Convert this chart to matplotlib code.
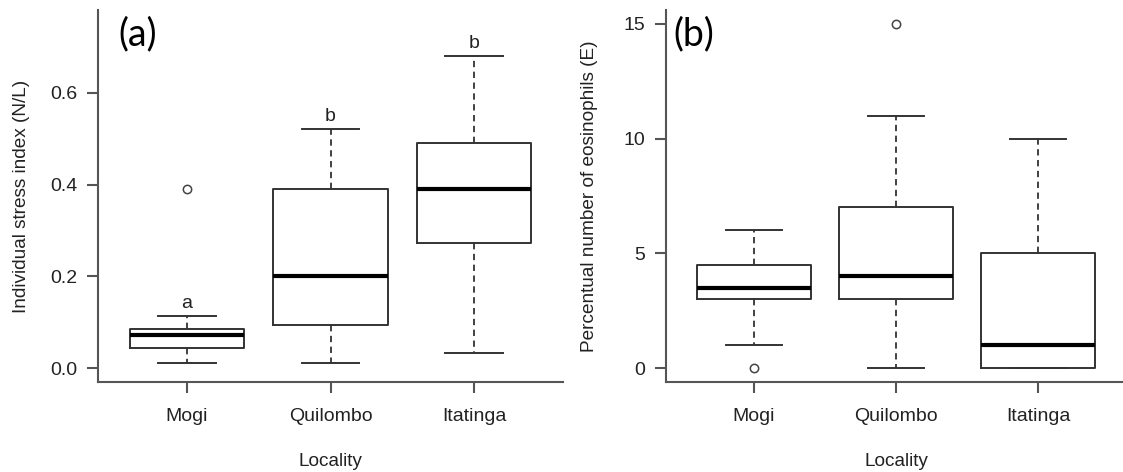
import matplotlib
matplotlib.use("Agg")
import matplotlib.pyplot as plt

plt.rcParams['font.family'] = ['Liberation Sans', 'DejaVu Sans']

categories = ["Mogi", "Quilombo", "Itatinga"]

# Panel (a): Individual stress index (N/L)
a_low = [0.012, 0.012, 0.033]
a_q1 = [0.045, 0.095, 0.273]
a_med = [0.073, 0.200, 0.390]
a_q3 = [0.085, 0.390, 0.490]
a_high = [0.113, 0.520, 0.680]
a_out = [[0.39], [], []]
a_letters = ["a", "b", "b"]
a_ticks = [0.0, 0.2, 0.4, 0.6]
a_ticklabels = ["0.0", "0.2", "0.4", "0.6"]

# Panel (b): Percentual number of eosinophils (E)
b_low = [1, 0, 0]
b_q1 = [3, 3, 0]
b_med = [3.5, 4, 1]
b_q3 = [4.5, 7, 5]
b_high = [6, 11, 10]
b_out = [[0], [15], []]
b_ticks = [0, 5, 10, 15]
b_ticklabels = ["0", "5", "10", "15"]

line_col = "#333333"
axis_col = "#555555"
text_col = "#222222"


def make_stats(low, q1, med, q3, high, out):
    return [dict(whislo=l, q1=a, med=m, q3=b, whishi=h, fliers=f, label=c)
            for l, a, m, b, h, f, c in zip(low, q1, med, q3, high, out, categories)]


W, H = 1123, 472
fig = plt.figure(figsize=(W / 100, H / 100), dpi=100)
axA = fig.add_axes([98 / W, 1 - 382 / H, 465 / W, 372 / H])
axB = fig.add_axes([666 / W, 1 - 382 / H, 460 / W, 372 / H])


def draw(ax, stats, ylim, ticks, ticklabels, ylabel, ylab_px):
    ax.bxp(stats, positions=[1, 2, 3], widths=0.8, capwidths=0.4,
           showfliers=True,
           boxprops=dict(color=line_col, linewidth=1.4),
           whiskerprops=dict(color=line_col, linewidth=1.3, linestyle=(0, (3.5, 2.5))),
           capprops=dict(color=line_col, linewidth=1.4),
           medianprops=dict(color="black", linewidth=3.0, solid_capstyle="butt"),
           flierprops=dict(marker="o", markersize=6, markerfacecolor="white",
                           markeredgecolor="#444444", markeredgewidth=1.1,
                           linestyle="none"))
    ax.set_xlim(0.38, 3.62)
    ax.set_ylim(*ylim)
    ax.spines['top'].set_visible(False)
    ax.spines['right'].set_visible(False)
    for s in ('left', 'bottom'):
        ax.spines[s].set_color(axis_col)
        ax.spines[s].set_linewidth(1.5)
    ax.set_yticks(ticks)
    ax.set_yticklabels(ticklabels)
    ax.set_xticks([1, 2, 3])
    ax.set_xticklabels(categories)
    ax.tick_params(axis='both', direction='out', length=8, width=1.5,
                   color=axis_col, labelsize=14, labelcolor=text_col)
    ax.tick_params(axis='x', pad=11)
    ax.tick_params(axis='y', pad=7)
    ax.set_xlabel("Locality", fontsize=13.7, color=text_col)
    ax.set_ylabel(ylabel, fontsize=13.7, color=text_col)
    bbox = ax.get_position()
    ax_w = bbox.width * W
    ax_h = bbox.height * H
    ax.yaxis.set_label_coords(-ylab_px / ax_w, 0.5)
    ax.yaxis.label.set_va('center')
    ax.xaxis.set_label_coords(0.5, -(462 - 382) / ax_h)
    ax.xaxis.label.set_va('center')
    ax.patch.set_alpha(0)


draw(axA, make_stats(a_low, a_q1, a_med, a_q3, a_high, a_out), (-0.03, 0.78),
     a_ticks, a_ticklabels, "Individual stress index (N/L)", 76)
draw(axB, make_stats(b_low, b_q1, b_med, b_q3, b_high, b_out), (-0.6, 15.6),
     b_ticks, b_ticklabels, "Percentual number of eosinophils (E)", 77)

for i, (letter, top) in enumerate(zip(a_letters, a_high)):
    axA.annotate(letter, xy=(i + 1, top), xytext=(0, 3), textcoords="offset points",
                 ha="center", va="bottom", fontsize=14, color=text_col)

axA.text((118 - 98) / 465, 1 - (16 - 10) / 372, "(a)", transform=axA.transAxes,
         ha="left", va="top", fontsize=27, family=["Lato", "DejaVu Sans"], color="black")
axB.text((673 - 666) / 460, 1 - (16 - 10) / 372, "(b)", transform=axB.transAxes,
         ha="left", va="top", fontsize=27, family=["Lato", "DejaVu Sans"], color="black")

fig.savefig("out.png", dpi=100)
